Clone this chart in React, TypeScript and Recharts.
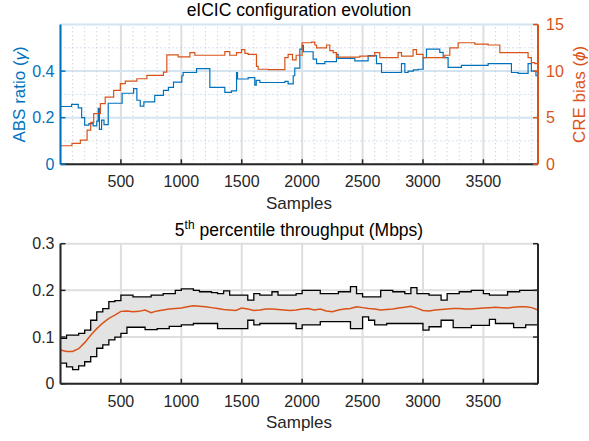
import React from 'react';
import { ComposedChart, Line, Area, XAxis, YAxis, CartesianGrid, ReferenceLine } from 'recharts';

const FONT = '"Liberation Sans", Arial, Helvetica, sans-serif';
const BLUE = '#0072BD';
const ORANGE = '#D95319';
const AX = '#262626';
const GRID = '#dedede';
const GRID_BLUE = '#d4e4f1';
const MINOR = '#c4c4c4';
const MINOR_BLUE = '#aac9e4';

const X_DOMAIN: [number, number] = [0, 3952];
const xTicks = [500, 1000, 1500, 2000, 2500, 3000, 3500];
const xMinorTicks = [100, 200, 300, 400, 600, 700, 800, 900, 1100, 1200, 1300, 1400, 1600, 1700, 1800, 1900,
  2100, 2200, 2300, 2400, 2600, 2700, 2800, 2900, 3100, 3200, 3300, 3400, 3600, 3700, 3800, 3900];
const absTicks = [0, 0.2, 0.4];
const absMinorTicks = [0.1, 0.3, 0.5];
const creTicks = [0, 5, 10, 15];
const thrTicks = [0, 0.1, 0.2, 0.3];

// ABS ratio (gamma) step series
const absSamples = [0, 92, 147, 175, 200, 235, 270, 300, 312, 322, 340, 360, 395, 510, 605, 632, 660, 690, 780, 852,
  893, 935, 1004, 1015, 1126, 1236, 1360, 1415, 1457, 1465, 1553, 1608, 1620, 1650, 1857, 1884, 1926, 1939, 1981, 2001,
  2010, 2091, 2119, 2188, 2284, 2298, 2436, 2546, 2615, 2657, 2822, 2850, 2877, 2920, 2960, 3001, 3029, 3139, 3167, 3208,
  3318, 3539, 3732, 3787, 3870, 3897, 3935, 3952];
const absValues = [0.248, 0.257, 0.242, 0.2, 0.168, 0.175, 0.165, 0.185, 0.24, 0.15, 0.19, 0.17, 0.262, 0.305, 0.325, 0.275, 0.25, 0.268, 0.296, 0.317,
  0.33, 0.353, 0.38, 0.394, 0.411, 0.33, 0.309, 0.315, 0.394, 0.366, 0.372, 0.34, 0.36, 0.351, 0.356, 0.345, 0.38, 0.413, 0.494, 0.51,
  0.483, 0.451, 0.432, 0.441, 0.472, 0.455, 0.444, 0.466, 0.432, 0.394, 0.432, 0.394, 0.4, 0.405, 0.408, 0.458, 0.494, 0.48, 0.458, 0.416,
  0.425, 0.432, 0.394, 0.39, 0.432, 0.4, 0.38, 0.38];

// CRE bias (phi) step series
const creSamples = [0, 95, 164, 220, 250, 275, 330, 370, 440, 495, 536, 632, 715, 852, 880, 974, 1071, 1112, 1360, 1401,
  1457, 1498, 1526, 1553, 1622, 1636, 1719, 1857, 1884, 1920, 1950, 2000, 2078, 2105, 2119, 2202, 2229, 2257, 2284, 2477,
  2601, 2643, 2794, 2822, 2918, 2946, 3001, 3180, 3222, 3291, 3429, 3539, 3636, 3870, 3897, 3925, 3952];
const creValues = [1.99, 2.24, 2.6, 3.67, 4.5, 5.44, 6.5, 7.2, 7.94, 8.65, 8.93, 9.18, 9.54, 9.9, 11.74, 11.52, 11.98, 11.7, 12.1, 11.7,
  11.98, 12.3, 11.9, 11.8, 10.5, 10.2, 10.15, 11.45, 11.8, 11.2, 11.7, 13.04, 13.1, 12.8, 12.5, 12.8, 12.2, 11.98, 11.5, 11.6,
  11.98, 11.45, 11.98, 11.6, 12.3, 11.8, 11.45, 11.7, 12.5, 13.04, 12.9, 12.8, 11.98, 11.45, 10.9, 10.8, 10.8];

// 5th percentile throughput
const thrSamples = [0, 50, 100, 150, 200, 250, 300, 350, 400, 450, 500, 550, 600, 650, 700, 750, 800, 850, 900, 950,
  1000, 1050, 1100, 1150, 1200, 1250, 1300, 1350, 1400, 1450, 1500, 1550, 1600, 1650, 1700, 1750, 1800, 1850, 1900, 1950,
  2000, 2050, 2100, 2150, 2200, 2250, 2300, 2350, 2400, 2450, 2500, 2550, 2600, 2650, 2700, 2750, 2800, 2850, 2900, 2950,
  3000, 3050, 3100, 3150, 3200, 3250, 3300, 3350, 3400, 3450, 3500, 3550, 3600, 3650, 3700, 3750, 3800, 3850, 3900, 3952];
const thrUpper = [0.097, 0.104, 0.104, 0.108, 0.115, 0.136, 0.154, 0.161, 0.176, 0.178, 0.19, 0.19, 0.186, 0.186, 0.186, 0.19, 0.19, 0.193, 0.193, 0.2,
  0.203, 0.203, 0.2, 0.197, 0.197, 0.195, 0.193, 0.199, 0.19, 0.19, 0.19, 0.179, 0.193, 0.19, 0.19, 0.197, 0.19, 0.19, 0.19, 0.193,
  0.2, 0.2, 0.2, 0.193, 0.193, 0.193, 0.197, 0.197, 0.208, 0.193, 0.186, 0.186, 0.186, 0.2, 0.2, 0.197, 0.197, 0.193, 0.206, 0.193,
  0.193, 0.19, 0.19, 0.179, 0.193, 0.193, 0.197, 0.197, 0.2, 0.2, 0.193, 0.19, 0.19, 0.19, 0.197, 0.197, 0.2, 0.2, 0.2, 0.201];
const thrMean = [0.072, 0.069, 0.069, 0.075, 0.088, 0.104, 0.118, 0.13, 0.14, 0.147, 0.155, 0.156, 0.154, 0.155, 0.158, 0.152, 0.156, 0.158, 0.16, 0.161,
  0.162, 0.165, 0.167, 0.166, 0.165, 0.163, 0.161, 0.159, 0.158, 0.157, 0.162, 0.16, 0.157, 0.158, 0.16, 0.16, 0.159, 0.158, 0.157, 0.158,
  0.16, 0.161, 0.158, 0.16, 0.156, 0.154, 0.158, 0.16, 0.161, 0.165, 0.163, 0.161, 0.16, 0.158, 0.159, 0.16, 0.162, 0.164, 0.166, 0.162,
  0.157, 0.156, 0.158, 0.159, 0.16, 0.161, 0.161, 0.16, 0.16, 0.161, 0.162, 0.163, 0.164, 0.163, 0.162, 0.164, 0.165, 0.165, 0.163, 0.158];
const thrLower = [0.044, 0.036, 0.03, 0.038, 0.047, 0.058, 0.076, 0.083, 0.094, 0.1, 0.108, 0.121, 0.121, 0.121, 0.116, 0.116, 0.118, 0.118, 0.123, 0.123,
  0.126, 0.126, 0.129, 0.129, 0.129, 0.129, 0.118, 0.118, 0.118, 0.118, 0.118, 0.136, 0.126, 0.129, 0.129, 0.129, 0.129, 0.129, 0.129, 0.118,
  0.126, 0.126, 0.126, 0.133, 0.133, 0.133, 0.133, 0.133, 0.118, 0.118, 0.143, 0.136, 0.126, 0.126, 0.129, 0.129, 0.129, 0.129, 0.129, 0.129,
  0.115, 0.122, 0.122, 0.136, 0.136, 0.12, 0.12, 0.12, 0.125, 0.125, 0.125, 0.138, 0.129, 0.129, 0.129, 0.12, 0.12, 0.126, 0.126, 0.126];

const absData = absSamples.map((s, i) => ({ s, v: absValues[i] }));
const creData = creSamples.map((s, i) => ({ s, v: creValues[i] }));
const thrData = thrSamples.map((s, i) => ({ s, up: thrUpper[i], mid: thrMean[i], lo: thrLower[i], band: [thrLower[i], thrUpper[i]] }));

const TL = 5;
const TICK_FS = 16;

const BottomTick = (color: string, showLabel = true) => (p: any) => (
  <g>
    <line x1={p.x} x2={p.x} y1={p.y} y2={p.y - TL} stroke={color} strokeWidth={1.5} />
    {showLabel && (
      <text x={p.x} y={p.y + 23} textAnchor="middle" fontSize={TICK_FS} fontFamily={FONT} fill={color}>
        {p.payload.value}
      </text>
    )}
  </g>
);
const TopTick = (color: string) => (p: any) => (
  <line x1={p.x} x2={p.x} y1={p.y} y2={p.y + TL} stroke={color} strokeWidth={1.5} />
);
const LeftTick = (color: string) => (p: any) => (
  <g>
    <line x1={p.x} x2={p.x + TL} y1={p.y} y2={p.y} stroke={color} strokeWidth={1.5} />
    <text x={p.x - 6} y={p.y} textAnchor="end" dominantBaseline="central" fontSize={TICK_FS} fontFamily={FONT} fill={color}>
      {p.payload.value}
    </text>
  </g>
);
const RightTick = (color: string, showLabel = true) => (p: any) => (
  <g>
    <line x1={p.x} x2={p.x - TL} y1={p.y} y2={p.y} stroke={color} strokeWidth={1.5} />
    {showLabel && (
      <text x={p.x + 8} y={p.y} textAnchor="start" dominantBaseline="central" fontSize={TICK_FS} fontFamily={FONT} fill={color}>
        {p.payload.value}
      </text>
    )}
  </g>
);

const W = 589;
const PLOT_LEFT = 60.5;
const PLOT_RIGHT_W = 51;

function TopChart() {
  return (
    <ComposedChart width={W} height={215} margin={{ top: 24.5, right: 0, bottom: 0, left: 0 }}>
      <XAxis xAxisId="b" dataKey="s" type="number" domain={X_DOMAIN} ticks={xTicks} interval={0} allowDataOverflow
        height={50.7} tickSize={0} tickMargin={0} tickLine={false} axisLine={{ stroke: AX, strokeWidth: 2 }} tick={BottomTick(AX)} />
      <XAxis xAxisId="t" orientation="top" dataKey="s" type="number" domain={X_DOMAIN} ticks={xTicks} interval={0} allowDataOverflow
        height={0} tickSize={0} tickMargin={0} tickLine={false} axisLine={{ stroke: AX, strokeWidth: 2 }} tick={TopTick(AX)} />
      <YAxis yAxisId="l" type="number" domain={[0, 0.6]} ticks={absTicks} interval={0} allowDataOverflow width={PLOT_LEFT}
        tickSize={0} tickMargin={0} tickLine={false} axisLine={{ stroke: BLUE, strokeWidth: 2 }} tick={LeftTick(BLUE)} />
      <YAxis yAxisId="r" orientation="right" type="number" domain={[0, 15]} ticks={creTicks} interval={0} allowDataOverflow width={PLOT_RIGHT_W}
        tickSize={0} tickMargin={0} tickLine={false} axisLine={{ stroke: ORANGE, strokeWidth: 2 }} tick={RightTick(ORANGE)} />
      <CartesianGrid xAxisId="b" yAxisId="l" horizontal={false} stroke={GRID} strokeWidth={2} />
      <CartesianGrid xAxisId="b" yAxisId="l" vertical={false} stroke={GRID_BLUE} strokeWidth={2} />
      {xMinorTicks.map((t) => (
        <ReferenceLine key={'mx' + t} xAxisId="b" yAxisId="l" x={t} stroke={MINOR} strokeWidth={1} strokeDasharray="1 3" zIndex={-50} />
      ))}
      {absMinorTicks.map((t) => (
        <ReferenceLine key={'my' + t} xAxisId="b" yAxisId="l" y={t} stroke={MINOR_BLUE} strokeWidth={1} strokeDasharray="1 3" zIndex={-50} />
      ))}
      <Line xAxisId="b" yAxisId="l" data={absData} dataKey="v" type="stepAfter" stroke={BLUE} strokeWidth={1.2}
        dot={false} activeDot={false} isAnimationActive={false} />
      <Line xAxisId="b" yAxisId="r" data={creData} dataKey="v" type="stepAfter" stroke={ORANGE} strokeWidth={1.2}
        dot={false} activeDot={false} isAnimationActive={false} />
    </ComposedChart>
  );
}

function BottomChart() {
  return (
    <ComposedChart width={W} height={226} data={thrData} margin={{ top: 28.7, right: 0, bottom: 0, left: 0 }}>
      <XAxis xAxisId="b" dataKey="s" type="number" domain={X_DOMAIN} ticks={xTicks} interval={0} allowDataOverflow
        height={57.3} tickSize={0} tickMargin={0} tickLine={false} axisLine={{ stroke: AX, strokeWidth: 2 }} tick={BottomTick(AX)} />
      <XAxis xAxisId="t" orientation="top" dataKey="s" type="number" domain={X_DOMAIN} ticks={xTicks} interval={0} allowDataOverflow
        height={0} tickSize={0} tickMargin={0} tickLine={false} axisLine={{ stroke: AX, strokeWidth: 2 }} tick={TopTick(AX)} />
      <YAxis yAxisId="l" type="number" domain={[0, 0.3]} ticks={thrTicks} interval={0} allowDataOverflow width={PLOT_LEFT}
        tickSize={0} tickMargin={0} tickLine={false} axisLine={{ stroke: AX, strokeWidth: 2 }} tick={LeftTick(AX)} />
      <YAxis yAxisId="r" orientation="right" type="number" domain={[0, 0.3]} ticks={thrTicks} interval={0} allowDataOverflow width={PLOT_RIGHT_W}
        tickSize={0} tickMargin={0} tickLine={false} axisLine={{ stroke: AX, strokeWidth: 2 }} tick={RightTick(AX, false)} />
      <CartesianGrid xAxisId="b" yAxisId="l" stroke={GRID} strokeWidth={2} />
      <Area xAxisId="b" yAxisId="l" dataKey="band" type="stepAfter" stroke="none" fill="#e3e3e3" fillOpacity={1}
        dot={false} activeDot={false} isAnimationActive={false} />
      <Line xAxisId="b" yAxisId="l" dataKey="up" type="stepAfter" stroke="#000" strokeWidth={1.3}
        dot={false} activeDot={false} isAnimationActive={false} />
      <Line xAxisId="b" yAxisId="l" dataKey="lo" type="stepAfter" stroke="#000" strokeWidth={1.3}
        dot={false} activeDot={false} isAnimationActive={false} />
      <Line xAxisId="b" yAxisId="l" dataKey="mid" type="linear" stroke={ORANGE} strokeWidth={1.5}
        dot={false} activeDot={false} isAnimationActive={false} />
    </ComposedChart>
  );
}

export default function App() {
  return (
    <div style={{ position: 'absolute', left: 0, top: 0, width: W, height: 441, background: '#fff', fontFamily: FONT }}>
      <div style={{ position: 'absolute', left: 0, top: 0 }}>
        <TopChart />
      </div>
      <div style={{ position: 'absolute', left: 0, top: 215 }}>
        <BottomChart />
      </div>
      <svg width={W} height={441} style={{ position: 'absolute', left: 0, top: 0, pointerEvents: 'none' }} fontFamily={FONT}>
        <text x={299} y={16} textAnchor="middle" fontSize={17.5} fill="#000">eICIC configuration evolution</text>
        <text x={299} y={208.5} textAnchor="middle" fontSize={17} fill={AX}>Samples</text>
        <text transform="translate(19.5,94.4) rotate(-90)" textAnchor="middle" dominantBaseline="central" fontSize={17} fill={BLUE}>
          ABS ratio (<tspan fontStyle="italic">γ</tspan>)
        </text>
        <text transform="translate(579,94.4) rotate(-90)" textAnchor="middle" dominantBaseline="central" fontSize={17} fill={ORANGE}>
          CRE bias (<tspan fontStyle="italic">ϕ</tspan>)
        </text>
        <text x={299} y={236} textAnchor="middle" fontSize={17.5} fill="#000">
          5<tspan fontSize={12} dy={-7}>th</tspan><tspan dy={7}> percentile throughput (Mbps)</tspan>
        </text>
        <text x={299} y={428} textAnchor="middle" fontSize={17} fill={AX}>Samples</text>
      </svg>
    </div>
  );
}
